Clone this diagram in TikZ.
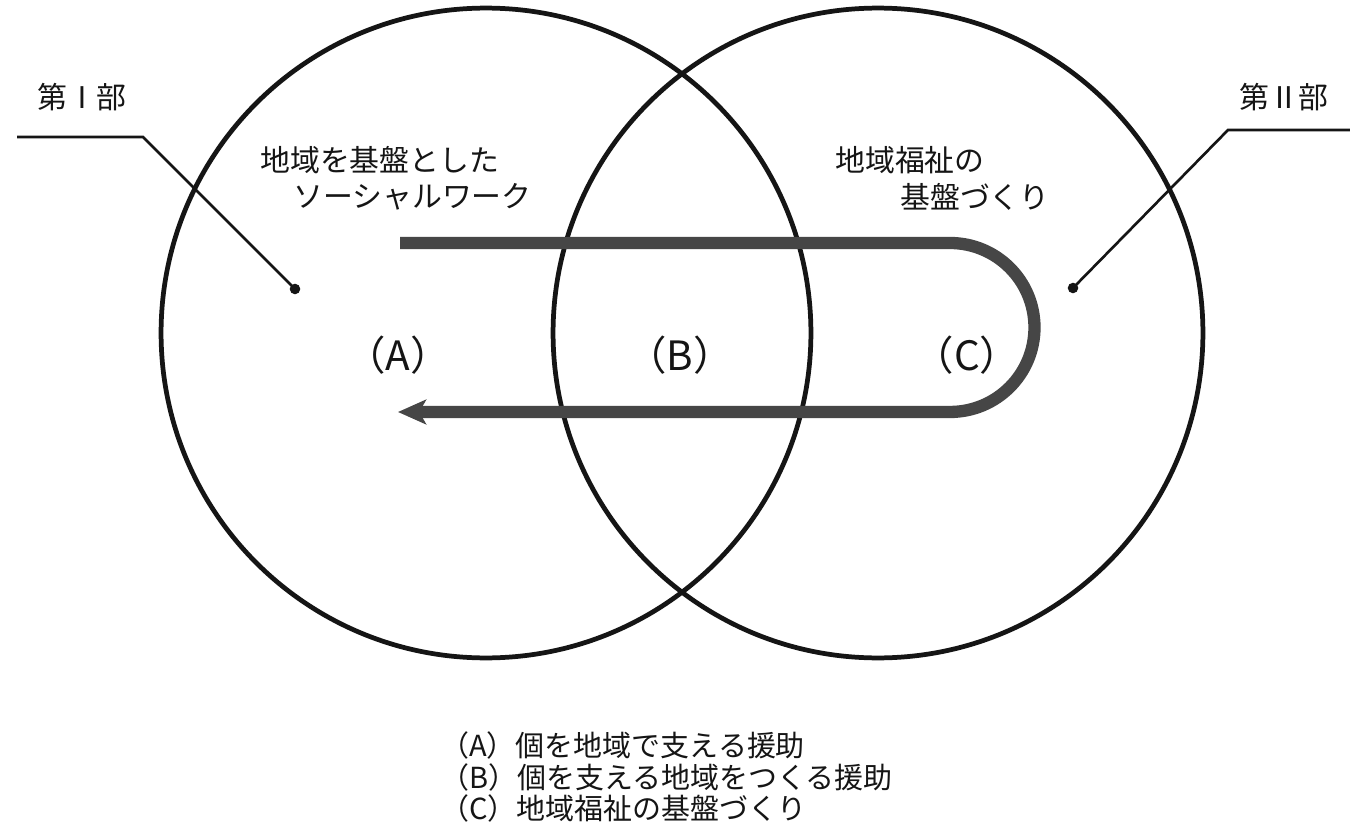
\documentclass[tikz,border=0pt]{standalone}
\usepackage{fontspec}
\setmainfont{Noto Sans CJK JP}
\usetikzlibrary{arrows.meta}
\definecolor{bandgray}{HTML}{464646}
\definecolor{inkgray}{HTML}{151515}
\begin{document}
\begin{tikzpicture}[x=0.02cm,y=-0.02cm,
  ring/.style={circle,draw=inkgray,line width=2.7pt,minimum size=13cm,inner sep=0pt},
  leader/.style={draw=inkgray,line width=1.5pt},
  dotmark/.style={circle,fill=inkgray,inner sep=0pt,minimum size=6pt},
  band/.style={draw=bandgray,line width=7pt},
  toplabel/.style={font=\fontsize{17pt}{21pt}\selectfont,text=inkgray,inner sep=0pt,align=left},
  region/.style={font=\fontsize{23pt}{27pt}\selectfont,text=inkgray,inner sep=0pt},
  legend/.style={font=\fontsize{16.5pt}{20pt}\selectfont,text=inkgray,inner sep=0pt,anchor=west}]
\useasboundingbox[fill=white] (0,0) rectangle (1350,828);
% circles
\node[ring] (L) at (486,333) {};
\node[ring] (R) at (878,333) {};
% part labels and leaders
\node[toplabel] (p1) at (82,97) {第Ⅰ部};
\node[toplabel] (p2) at (1284,97) {第Ⅱ部};
\coordinate (l1a) at (17,137);
\coordinate (l1b) at (143,137);
\node[dotmark] (d1) at (295,289) {};
\coordinate (l2a) at (1350,130);
\coordinate (l2b) at (1228,130);
\node[dotmark] (d2) at (1073,288) {};
\draw[leader] (l1a) -- (l1b) -- (d1.center);
\draw[leader] (l2a) -- (l2b) -- (d2.center);
% circle titles
\node[toplabel,anchor=west] (t1) at (260,160) {地域を基盤とした};
\node[toplabel,anchor=west] (t2) at (293,197) {ソーシャルワーク};
\node[toplabel,anchor=west] (t3) at (835,160) {地域福祉の};
\node[toplabel,anchor=west] (t4) at (900,197) {基盤づくり};
% U-turn band
\coordinate (bs) at (400,243);
\coordinate (bt) at (950,243);
\coordinate (bb) at (950,412);
\coordinate (be) at (398,412);
\draw[band,-{Stealth[length=16pt,width=14pt,inset=4pt]}] (bs) -- (bt) arc[start angle=90,end angle=-90,radius=1.69cm] -- (be);
% region labels
\node[region] (A) at (398,355) {（A）};
\node[region] (B) at (680,355) {（B）};
\node[region] (C) at (967,355) {（C）};
% legend
\node[legend] (la) at (440,745) {（A）個を地域で支える援助};
\node[legend] (lb) at (440,777) {（B）個を支える地域をつくる援助};
\node[legend] (lc) at (440,808) {（C）地域福祉の基盤づくり};
\end{tikzpicture}
\end{document}
